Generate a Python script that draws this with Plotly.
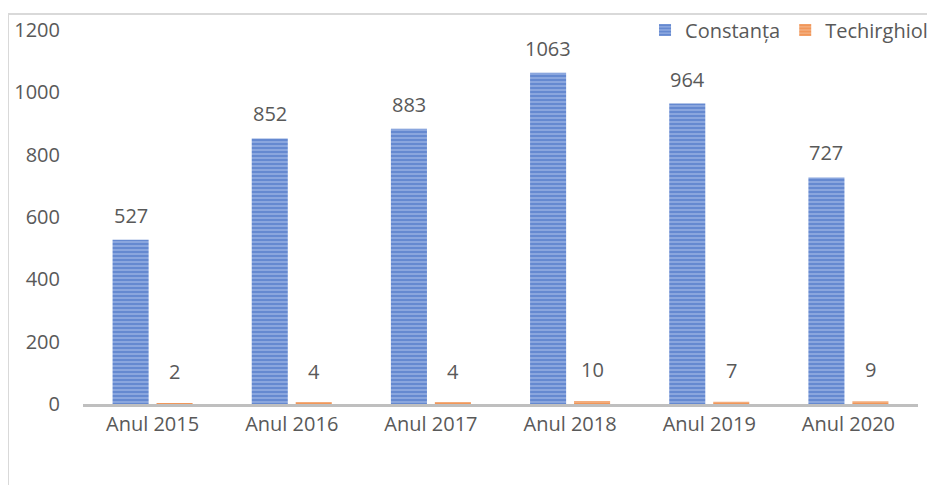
import plotly.graph_objects as go

categories = ["Anul 2015", "Anul 2016", "Anul 2017", "Anul 2018", "Anul 2019", "Anul 2020"]
constanta = [527, 852, 883, 1063, 964, 727]
techirghiol = [2, 4, 4, 10, 7, 9]
y_ticks = [0, 200, 400, 600, 800, 1000, 1200]

FONT = "Open Sans"
TXT = "#595959"
FS = 20

fig = go.Figure()
fig.add_trace(go.Bar(
    name="Constanța", x=categories, y=constanta,
    marker=dict(color="#93aee2", line=dict(width=0),
                pattern=dict(shape="-", fgcolor="#3864be", bgcolor="#93aee2",
                             size=4, solidity=0.6, fillmode="overlay")),
))
fig.add_trace(go.Bar(
    name="Techirghiol", x=categories, y=techirghiol,
    marker=dict(color="#f4b183", line=dict(width=0),
                pattern=dict(shape="-", fgcolor="#ED7D31", bgcolor="#f4b183",
                             size=4, solidity=0.6, fillmode="overlay")),
))

annotations = []
for c, v in zip(categories, constanta):
    annotations.append(dict(x=c, y=v, text=str(v), showarrow=False, xref="x", yref="y",
                            xshift=-22, yshift=9, yanchor="bottom",
                            font=dict(family=FONT, size=FS, color=TXT)))
for c, v in zip(categories, techirghiol):
    annotations.append(dict(x=c, y=v, text=str(v), showarrow=False, xref="x", yref="y",
                            xshift=22, yshift=16, yanchor="bottom",
                            font=dict(family=FONT, size=FS, color=TXT)))

fig.update_layout(
    width=927, height=477,
    margin=dict(l=75, r=17, t=22, b=81, autoexpand=False),
    paper_bgcolor="white", plot_bgcolor="white",
    barmode="group", bargap=0.368, bargroupgap=0.18,
    font=dict(family=FONT, size=FS, color=TXT),
    showlegend=True,
    legend=dict(orientation="h", x=1.018, xanchor="right", y=1.0, yanchor="middle",
                font=dict(family=FONT, size=FS, color=TXT),
                itemwidth=30, tracegroupgap=0, bgcolor="rgba(0,0,0,0)"),
    annotations=annotations,
    shapes=[dict(type="rect", xref="paper", yref="paper",
                 x0=-0.0898, x1=1.04, y0=-0.35, y1=1.0428,
                 line=dict(color="#d9d9d9", width=2), layer="below")],
)
fig.update_xaxes(showgrid=False, showline=True, linecolor="#bfbfbf", linewidth=3,
                 ticks="", tickfont=dict(family=FONT, size=FS, color=TXT))
fig.update_yaxes(range=[0, 1200], tickvals=y_ticks, showgrid=False, zeroline=False,
                 showline=False, ticks="", ticklabelstandoff=22,
                 tickfont=dict(family=FONT, size=FS, color=TXT))

fig.write_html("out.html")
